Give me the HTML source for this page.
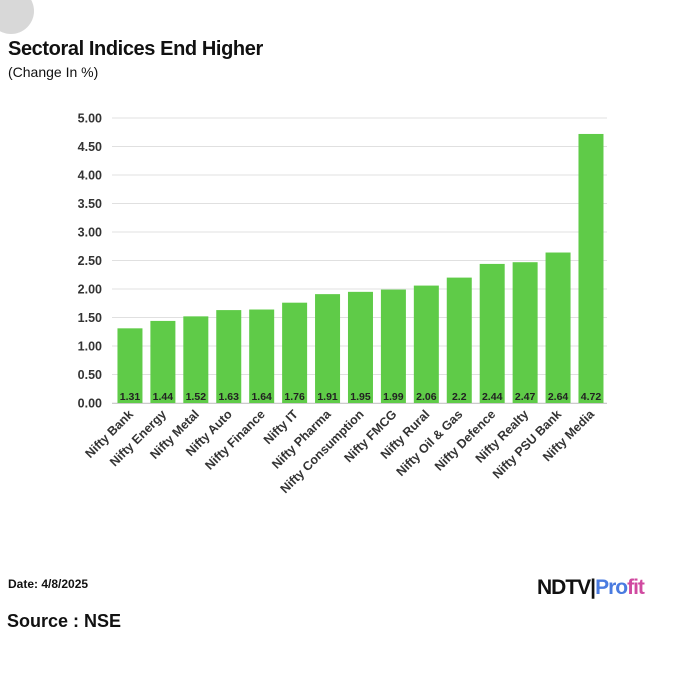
<!DOCTYPE html>
<html><head><meta charset="utf-8"><style>
body{margin:0;width:675px;height:675px;background:#fff;font-family:"Liberation Sans",sans-serif;position:relative;overflow:hidden}
.abs{position:absolute}
</style></head><body>
<div class="abs" style="left:-12px;top:-12px;width:46px;height:46px;border-radius:50%;background:#d8d8d8"></div>
<div class="abs" style="left:8px;top:38px;font-size:20px;font-weight:bold;color:#111;letter-spacing:-0.4px">Sectoral Indices End Higher</div>
<div class="abs" style="left:8px;top:64px;font-size:14px;color:#111">(Change In %)</div>
<svg class="abs" style="left:0;top:0" width="675" height="675">
<g id="g"></g>
</svg>
<div class="abs" style="left:8px;top:577px;font-size:12px;font-weight:bold;color:#111">Date: 4/8/2025</div>
<div class="abs" style="left:537px;top:576px;font-size:21px;font-weight:bold;letter-spacing:-1px"><span style="color:#111">NDTV</span><span style="color:#111">|</span><span style="color:#4a7be0">Pro</span><span style="color:#d04aa0">fit</span></div>
<div class="abs" style="left:7px;top:611px;font-size:18px;font-weight:bold;color:#111">Source : NSE</div>
<script>
const categories=["Nifty Bank","Nifty Energy","Nifty Metal","Nifty Auto","Nifty Finance","Nifty IT","Nifty Pharma","Nifty Consumption","Nifty FMCG","Nifty Rural","Nifty Oil & Gas","Nifty Defence","Nifty Realty","Nifty PSU Bank","Nifty Media"];
const values=[1.31,1.44,1.52,1.63,1.64,1.76,1.91,1.95,1.99,2.06,2.2,2.44,2.47,2.64,4.72];
const valueLabels=["1.31","1.44","1.52","1.63","1.64","1.76","1.91","1.95","1.99","2.06","2.2","2.44","2.47","2.64","4.72"];
const ticks=[0,0.5,1,1.5,2,2.5,3,3.5,4,4.5,5];
const tickLabels=["0.00","0.50","1.00","1.50","2.00","2.50","3.00","3.50","4.00","4.50","5.00"];
const NS="http://www.w3.org/2000/svg",g=document.getElementById('g');
const y0=403,y5=118,x0=113.5,step=32.93,bw=25;
const y=v=>y0-(v/5)*(y0-y5);
const x=i=>x0+step*i+step/2;
function mk(t,a){const e=document.createElementNS(NS,t);for(const k in a)e.setAttribute(k,a[k]);g.appendChild(e);return e;}
ticks.forEach((t,i)=>{
 const l=mk('line',{x1:112,x2:607,y1:y(t),y2:y(t),stroke:'#e0e0e0','stroke-width':1});
 
 
 const tx=mk('text',{x:102,y:y(t)+4.5,'text-anchor':'end','font-size':12.5,'font-weight':'bold',fill:'#333','font-family':'Liberation Sans'});
 tx.textContent=tickLabels[i];
 
 
});
values.forEach((v,i)=>{
 const r=mk('rect',{x:x(i)-bw/2,y:y(v),width:bw,height:y0-y(v),fill:'#5fcb48'});
 
 
 const t=mk('text',{x:x(i),y:y0-3,'text-anchor':'middle','font-size':10.5,'font-weight':'bold',fill:'#222','font-family':'Liberation Sans'});
 t.textContent=valueLabels[i];
 
 
 const c=mk('text',{x:x(i)+4,y:y0+12,'text-anchor':'end','font-size':12.5,'font-weight':'bold',fill:'#333','font-family':'Liberation Sans',transform:`rotate(-45 ${x(i)+4} ${y0+12})`});
 c.textContent=categories[i];
 
 
});
const ax=mk('line',{x1:112,x2:607,y1:y0+0.5,y2:y0+0.5,stroke:'#ccc','stroke-width':1});


</script>
</body></html>
